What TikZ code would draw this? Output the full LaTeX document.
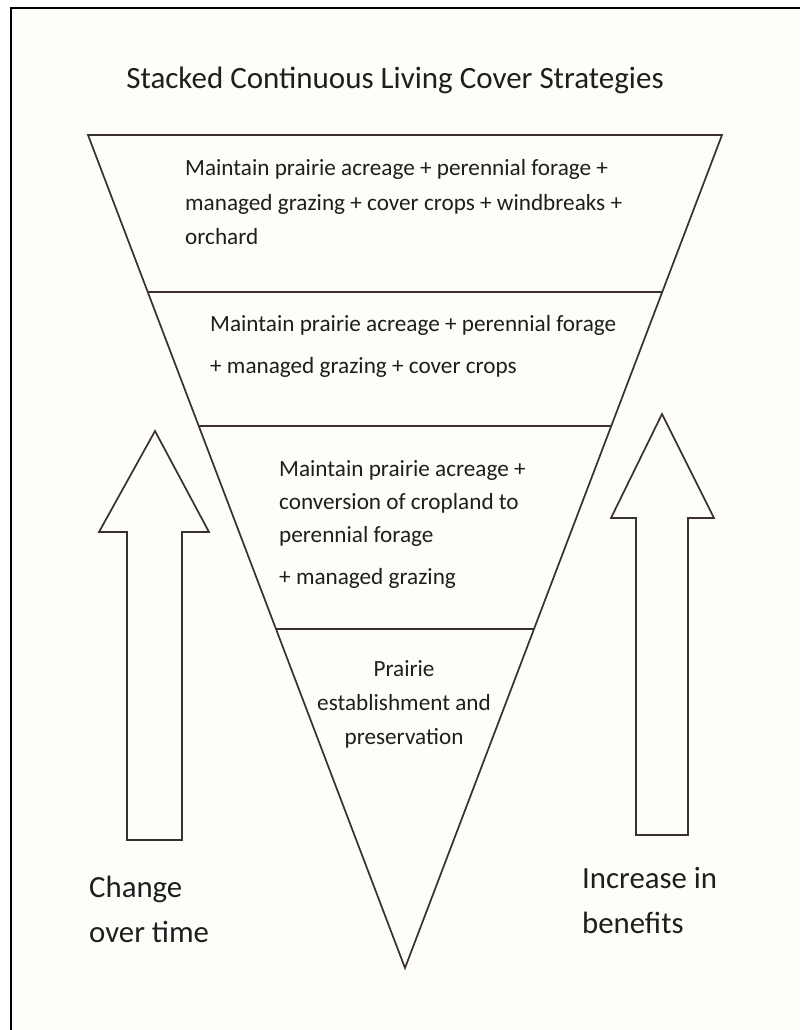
\documentclass[tikz,border=0pt]{standalone}
\usepackage{fontspec}
\setmainfont{Carlito}
\usetikzlibrary{calc}
\definecolor{edge}{RGB}{58,48,46}
\definecolor{paper}{RGB}{253,253,249}
\definecolor{ink}{RGB}{30,30,30}
\begin{document}
\begin{tikzpicture}[x=1pt,y=-1pt,
        line/.style={draw=edge,line width=1.7pt,line join=miter},
        bandtext/.style={text=ink,inner sep=0pt,anchor=west,align=left},
        sidetext/.style={text=ink,inner sep=0pt,anchor=west,align=left,font=\fontsize{30.8}{45}\selectfont}]
    \useasboundingbox (0,0) rectangle (800,1030);
    \fill[white] (0,0) rectangle (800,1030);
    \fill[paper] (11,8) rectangle (800,1030);
    \draw[black,line width=1.8pt] (11,1030) -- (11,8) -- (800,8);
    \node[text=ink,inner sep=0pt,font=\fontsize{31}{36}\selectfont] (title) at (395,80) {Stacked Continuous Living Cover Strategies};
    % funnel and its bands
    \coordinate (tl) at (88,135);
    \coordinate (tr) at (722,135);
    \coordinate (apex) at (405,968);
    \draw[line] (tl) -- (tr) -- (apex) -- cycle;
    \foreach \t [count=\i] in {0.1885,0.3493,0.5930}
        \draw[line] ($(tl)!\t!(apex)$) coordinate (l\i) -- ($(tr)!\t!(apex)$) coordinate (r\i);
    \node[bandtext,font=\fontsize{23.2}{34.5}\selectfont] (band1) at (185,202.5) {Maintain prairie acreage + perennial forage +\\managed grazing + cover crops + windbreaks +\\orchard};
    \node[bandtext,font=\fontsize{23.2}{42}\selectfont] (band2) at (210,346) {Maintain prairie acreage + perennial forage\\+ managed grazing + cover crops};
    \node[bandtext,font=\fontsize{23.2}{33}\selectfont] (band3) at (279,525) {Maintain prairie acreage +\\conversion of cropland to\\perennial forage\\[9pt]+ managed grazing};
    \node[bandtext,align=center,anchor=center,font=\fontsize{23.2}{34}\selectfont] (band4) at (404,704) {Prairie\\establishment and\\preservation};
    % block arrows
    \draw[line] (127,840) -- (127,532) -- (99,532) -- (155,431) -- (209,532) -- (182,532) -- (182,840) -- cycle;
    \draw[line] (636,835) -- (636,518) -- (611,518) -- (662,414) -- (714,518) -- (688,518) -- (688,835) -- cycle;
    \node[sidetext] (time) at (89,909.5) {Change\\over time};
    \node[sidetext] (benefit) at (582,900.5) {Increase in\\benefits};
\end{tikzpicture}
\end{document}
